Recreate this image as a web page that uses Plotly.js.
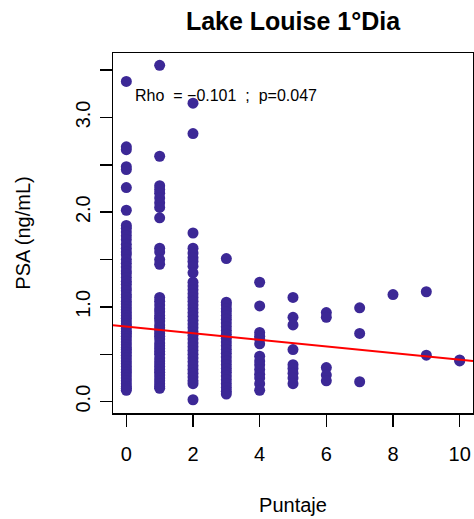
<!DOCTYPE html>
<html>
<head>
<meta charset="utf-8">
<script src="https://cdn.plot.ly/plotly-3.0.1.min.js"></script>
<style>html,body{margin:0;padding:0;background:#fff;}#chart{width:474px;height:519px;}</style>
</head>
<body>
<div id="chart"></div>
<script>
// Puntaje (score) categories and PSA values (ng/mL)
var scores = [0, 1, 2, 3, 4, 5, 6, 7, 8, 9, 10];
var psa_0 = [3.38, 2.69, 2.66, 2.48, 2.45, 2.26, 2.02, 1.86, 1.83, 1.79, 1.75, 1.71, 1.66, 1.62, 1.58, 1.55, 1.50, 1.46, 1.42, 1.38, 1.35, 1.31, 1.27, 1.24, 1.20, 1.17, 1.13, 1.10, 1.06, 1.03, 1.00, 0.97, 0.94, 0.91, 0.88, 0.85, 0.82, 0.80, 0.77, 0.74, 0.72, 0.69, 0.66, 0.63, 0.60, 0.57, 0.55, 0.52, 0.49, 0.46, 0.43, 0.40, 0.37, 0.34, 0.31, 0.28, 0.25, 0.22, 0.19, 0.16, 0.14, 0.12];
var psa_1 = [3.55, 2.59, 2.28, 2.24, 2.20, 2.15, 2.10, 2.05, 1.94, 1.62, 1.58, 1.50, 1.45, 1.10, 1.06, 1.02, 0.98, 0.95, 0.91, 0.88, 0.85, 0.81, 0.78, 0.75, 0.72, 0.69, 0.66, 0.62, 0.59, 0.56, 0.53, 0.50, 0.46, 0.43, 0.40, 0.37, 0.34, 0.31, 0.28, 0.25, 0.22, 0.19, 0.16, 0.14];
var psa_2 = [3.15, 2.83, 1.78, 1.62, 1.57, 1.52, 1.48, 1.43, 1.36, 1.26, 1.22, 1.18, 1.14, 1.10, 1.06, 1.02, 0.98, 0.94, 0.90, 0.86, 0.82, 0.78, 0.74, 0.70, 0.66, 0.62, 0.58, 0.54, 0.50, 0.46, 0.42, 0.38, 0.34, 0.30, 0.26, 0.22, 0.19, 0.02];
var psa_3 = [1.51, 1.05, 1.02, 0.98, 0.95, 0.91, 0.87, 0.83, 0.79, 0.75, 0.71, 0.67, 0.63, 0.59, 0.55, 0.51, 0.47, 0.43, 0.39, 0.35, 0.31, 0.27, 0.23, 0.19, 0.15, 0.11, 0.08];
var psa_4 = [1.26, 1.01, 0.73, 0.69, 0.66, 0.61, 0.48, 0.43, 0.39, 0.34, 0.29, 0.25, 0.19, 0.12];
var psa_5 = [1.10, 0.89, 0.81, 0.55, 0.39, 0.35, 0.30, 0.25, 0.19];
var psa_6 = [0.94, 0.89, 0.36, 0.28, 0.22];
var psa_7 = [0.99, 0.72, 0.21];
var psa_8 = [1.13];
var psa_9 = [1.16, 0.49];
var psa_10 = [0.44, 0.43];

// linear fit line (intercept, slope) and stats text
var fitIntercept = 0.792;
var fitSlope = -0.0348;
var statsText = "Rho  = \u22120.101  ;  p=0.047";

// tick labels
var yTickVals = [0, 0.5, 1, 1.5, 2, 2.5, 3, 3.5];
var yTickText = ["0.0", "", "1.0", "", "2.0", "", "3.0", ""];
var xTickVals = [0, 2, 4, 6, 8, 10];

var groups = [psa_0, psa_1, psa_2, psa_3, psa_4, psa_5, psa_6, psa_7, psa_8, psa_9, psa_10];
var px = [], py = [];
groups.forEach(function (g, i) {
  g.forEach(function (v) { px.push(scores[i]); py.push(v); });
});

var xRange = [-0.4, 10.4];
var yRange = [-0.12, 3.68];

var FONT = "Liberation Sans, Arial, Helvetica, sans-serif";

var traces = [
  {
    type: "scatter", mode: "markers", x: px, y: py,
    marker: { color: "rgb(60,40,150)", size: 11, line: { width: 0 } },
    hoverinfo: "x+y", showlegend: false
  },
  {
    type: "scatter", mode: "lines",
    x: [xRange[0], xRange[1]],
    y: [fitIntercept + fitSlope * xRange[0], fitIntercept + fitSlope * xRange[1]],
    line: { color: "red", width: 2 }, hoverinfo: "skip", showlegend: false
  }
];

var layout = {
  width: 474, height: 519,
  margin: { l: 113, r: 1, t: 53, b: 106, pad: 0 },
  paper_bgcolor: "#fff", plot_bgcolor: "#fff",
  font: { family: FONT, color: "#000", size: 20 },
  title: {
    text: "<b>Lake Louise 1°Dia</b>",
    font: { family: FONT, size: 25, color: "#000" },
    xref: "paper", x: 0.5, xanchor: "center",
    yref: "container", y: 1 - 21 / 519, yanchor: "middle"
  },
  xaxis: {
    range: xRange, autorange: false, fixedrange: true,
    tickmode: "array", tickvals: xTickVals,
    ticks: "outside", ticklen: 12, tickwidth: 1.5, tickcolor: "#000",
    showline: true, linecolor: "#000", linewidth: 1.5, mirror: true,
    showgrid: false, zeroline: false,
    tickfont: { family: FONT, size: 20, color: "#000" },
    ticklabelstandoff: 10,
    title: { text: "Puntaje", font: { family: FONT, size: 20, color: "#000" }, standoff: 34 }
  },
  yaxis: {
    range: yRange, autorange: false, fixedrange: true,
    tickmode: "array", tickvals: yTickVals, ticktext: yTickText,
    tickangle: -90,
    ticks: "outside", ticklen: 12, tickwidth: 1.5, tickcolor: "#000",
    showline: true, linecolor: "#000", linewidth: 1.5, mirror: true,
    showgrid: false, zeroline: false,
    tickfont: { family: FONT, size: 20, color: "#000" },
    ticklabelstandoff: 2,
    title: { text: "PSA (ng/mL)", font: { family: FONT, size: 20, color: "#000" }, standoff: 35 }
  },
  annotations: [
    {
      xref: "x", yref: "y", x: 3, y: 3.23, text: statsText, showarrow: false,
      xanchor: "center", yanchor: "middle",
      font: { family: FONT, size: 16, color: "#000" }
    }
  ]
};

Plotly.newPlot("chart", traces, layout, { displayModeBar: false, staticPlot: true });
</script>
</body>
</html>
